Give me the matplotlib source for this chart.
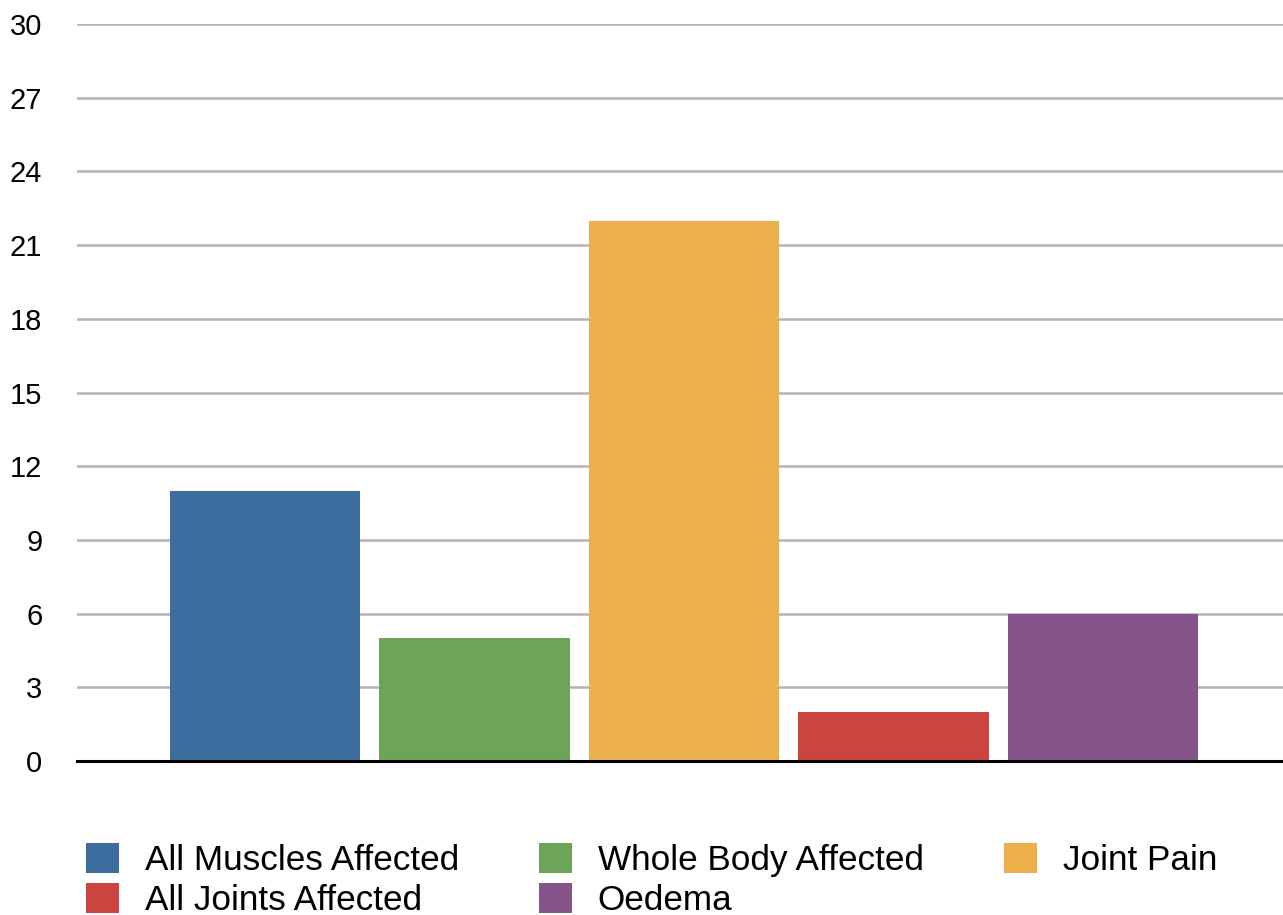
import matplotlib
matplotlib.use("Agg")
import matplotlib.pyplot as plt

# symptom counts
labels = ["All Muscles Affected", "Whole Body Affected", "Joint Pain",
          "All Joints Affected", "Oedema"]
counts = [11, 5, 22, 2, 6]
colors = ["#3d6d9e", "#6ca55a", "#ecaf4c", "#cc4340", "#84538a"]
yticks = [0, 3, 6, 9, 12, 15, 18, 21, 24, 27, 30]

plt.rcParams["font.family"] = ["Liberation Sans", "DejaVu Sans"]

fig = plt.figure(figsize=(12.83, 9.15), dpi=100)
ax = fig.add_axes([77 / 1283, 1 - 761 / 915, 1 - 77 / 1283, (761 - 24) / 915])

bars = ax.bar(range(len(counts)), counts, width=0.91, color=colors, zorder=2)

ax.set_xlim(-0.897, 4.859)
ax.set_ylim(0, 30)
ax.set_yticks(yticks)
ax.set_xticks([])
ax.tick_params(axis="y", length=0, pad=25, labelsize=21)
ax.yaxis.grid(True, color="#b3b3b3", linewidth=1.8, zorder=0)
ax.set_axisbelow(True)
for s in ax.spines.values():
    s.set_visible(False)
ax.axhline(0, color="black", linewidth=2.2, zorder=3, clip_on=False)

# legend laid out in three columns, two rows
order = [0, 3, 1, 4, 2]
ax.legend([bars[i] for i in order], [labels[i] for i in order],
          ncol=3, loc="upper left", bbox_to_anchor=(86 / 1283, 1 - 843 / 915),
          bbox_transform=fig.transFigure, frameon=False, fontsize=25.3,
          handlelength=0.95, handleheight=0.95, handletextpad=0.72,
          columnspacing=2.28, labelspacing=0.16, borderpad=0, borderaxespad=0)

fig.savefig("out.png", dpi=100)
